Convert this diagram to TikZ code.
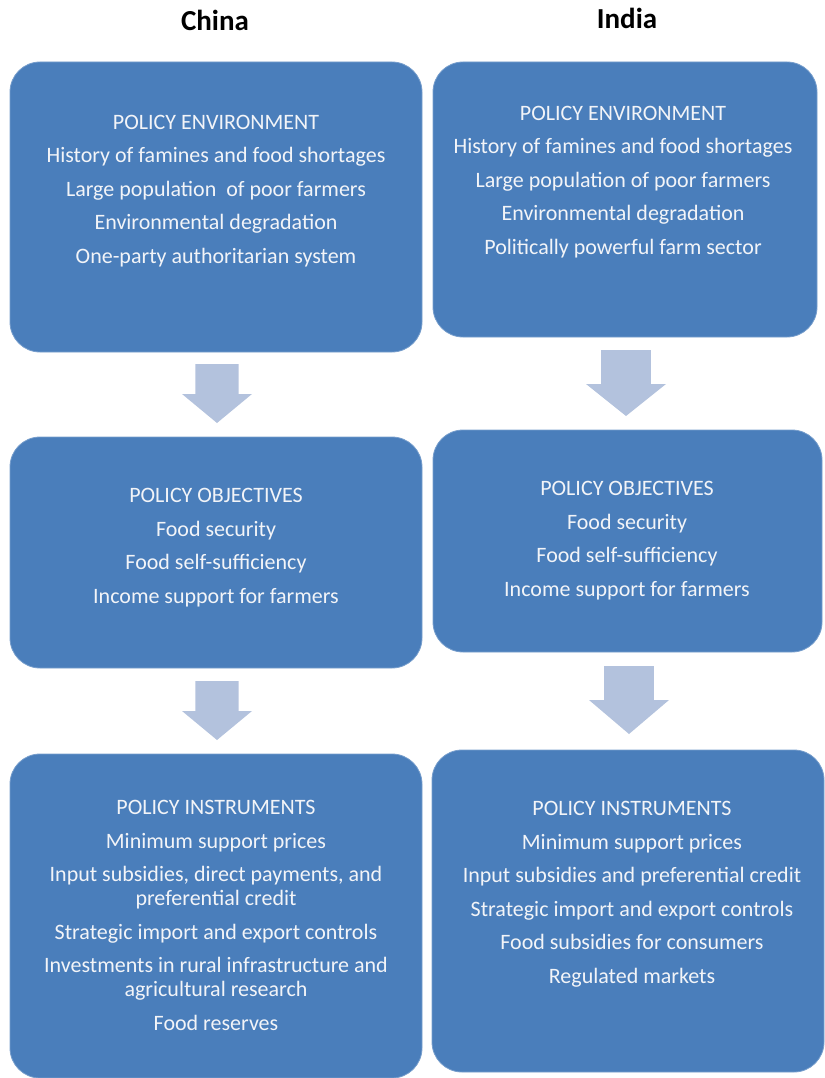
\documentclass[tikz,border=0pt]{standalone}
\usepackage{fontspec}
\setmainfont{Carlito}
\usepackage{tikz}
\definecolor{boxblue}{HTML}{4A7EBB}
\definecolor{arrowblue}{HTML}{B3C2DD}
\definecolor{boxtext}{HTML}{F2F4F8}
\tikzset{
  box/.style={rectangle,rounded corners=30pt,fill=boxblue,draw=boxblue!75!white,line width=0.8pt,inner sep=0pt},
  boxlabel/.style={align=center,text=boxtext,font=\fontsize{22}{24}\selectfont},
  header/.style={font=\fontsize{29}{34}\selectfont\bfseries}
}
\newcommand{\gap}{\\[9.5pt]}
% block arrow pointing down: x left of head, x right of head, y top, y where head starts, y tip
\newcommand{\downblock}[5]{%
  \fill[arrowblue] ({#1+(#2-#1)*0.19},#3) -- ({#2-(#2-#1)*0.19},#3) -- ({#2-(#2-#1)*0.19},#4)
    -- (#2,#4) -- ({(#1+#2)/2},#5) -- (#1,#4) -- ({#1+(#2-#1)*0.19},#4) -- cycle;}

\begin{document}
\begin{tikzpicture}[x=1pt,y=-1pt]
     \useasboundingbox (0,0) rectangle (824,1078);
     % headers
     \node[header] (china) at (215,20) {China};
     \node[header] (india) at (627,18) {India};
     % boxes
     \node[box,minimum width=412pt,minimum height=290pt] (cenv) at (216,207) {};
     \node[box,minimum width=384pt,minimum height=275pt] (ienv) at (625,199.5) {};
     \node[box,minimum width=412pt,minimum height=231pt] (cobj) at (216,552.5) {};
     \node[box,minimum width=389pt,minimum height=222pt] (iobj) at (627.5,541) {};
     \node[box,minimum width=412pt,minimum height=324pt] (cins) at (216,916) {};
     \node[box,minimum width=392pt,minimum height=322pt] (iins) at (628,911) {};
     % arrows
     \downblock{182}{252}{364}{394}{423}
     \downblock{586}{666}{350}{384}{416}
     \downblock{182}{252}{681}{711}{740}
     \downblock{589}{669}{666}{700}{734}
     % texts
     \node[boxlabel] (cenvtext) at (216,191) {POLICY ENVIRONMENT\gap History of famines and food shortages\gap
       Large population\ \ of poor farmers\gap Environmental degradation\gap One-party authoritarian system};
     \node[boxlabel] (ienvtext) at (623,182) {POLICY ENVIRONMENT\gap History of famines and food shortages\gap
       Large population of poor farmers\gap Environmental degradation\gap Politically powerful farm sector};
     \node[boxlabel] (cobjtext) at (216,547.5) {POLICY OBJECTIVES\gap Food security\gap
       Food self-sufficiency\gap Income support for farmers};
     \node[boxlabel] (iobjtext) at (627,540.5) {POLICY OBJECTIVES\gap Food security\gap
       Food self-sufficiency\gap Income support for farmers};
     \node[boxlabel] (cinstext) at (216,915.5) {POLICY INSTRUMENTS\gap Minimum support prices\gap
       Input subsidies, direct payments, and\\ preferential credit\gap Strategic import and export controls\gap
       Investments in rural infrastructure and\\ agricultural research\gap Food reserves};
     \node[boxlabel] (iinstext) at (632,894) {POLICY INSTRUMENTS\gap Minimum support prices\gap
       Input subsidies and preferential credit\gap Strategic import and export controls\gap
       Food subsidies for consumers\gap Regulated markets};
    \end{tikzpicture}
\end{document}
